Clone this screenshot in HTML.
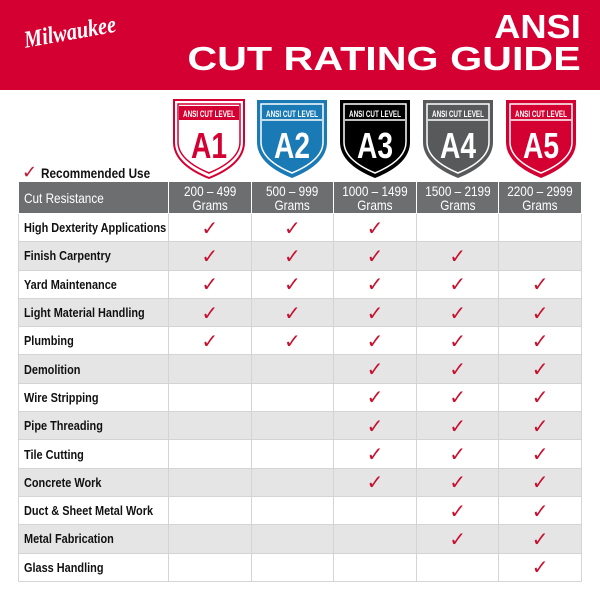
<!DOCTYPE html>
<html><head><meta charset="utf-8"><style>
body{margin:0;width:600px;height:600px;background:#fff;position:relative;overflow:hidden;font-family:"Liberation Sans",sans-serif}
.hdr{position:absolute;left:0;top:0;width:600px;height:90px;background:#d50032}
.t1,.t2{position:absolute;right:19px;color:#fff;font-family:"Liberation Sans",sans-serif;font-weight:900;white-space:nowrap;transform-origin:right top;font-size:33px;line-height:33px}
.t1{top:10px;transform:scaleX(1.1)}
.t2{top:42px;transform:scaleX(1.25)}
.logo{position:absolute;left:22px;top:28px;color:#fff;font-family:"Liberation Serif",serif;font-style:italic;font-weight:bold;font-size:24px;transform:rotate(-10deg) scaleX(0.85);transform-origin:left top}
table{position:absolute;left:18px;top:181px;border-collapse:collapse;width:564px;table-layout:fixed}
td{border:1px solid #d4d4d4;height:27.3px;padding:0;font-weight:bold;font-size:13px;color:#111;white-space:nowrap;overflow:visible}
td:first-child{padding-left:5px;width:144px}
td span{display:inline-block;transform:scaleX(0.84);transform-origin:left center}
td.c{text-align:center;color:#c8102e;font-size:20px;font-family:"DejaVu Sans",sans-serif;font-weight:bold}
tr.g td{background:#e5e5e5}
tr.h td{background:#6d6e70;color:#fff;font-weight:normal;font-size:14px;line-height:14px;height:31px;border-color:#fff}
tr.h td.n{text-align:center}
tr.h td.n span{transform-origin:center center}
.rec{position:absolute;left:22px;top:162px;font-size:14px;font-weight:bold;color:#111;white-space:nowrap}
.rec b{display:inline-block;transform:scaleX(0.84);transform-origin:left center;font-weight:bold}
.rec i{color:#c8102e;font-family:"DejaVu Sans",sans-serif;font-size:18px;font-style:normal;font-weight:bold}
svg.s{position:absolute;top:98px}
</style></head><body>
<div class="hdr"></div>
<div class="logo">Milwaukee</div>
<div class="t1">ANSI</div>
<div class="t2">CUT RATING GUIDE</div>
<div class="rec"><i>✓</i> <b>Recommended Use</b></div>

<svg class="s" style="left:171px" width="76" height="82" viewBox="0 0 76 82"><path d="M3 2H73V44Q73 66 38 80Q3 66 3 44Z" fill="#fff" stroke="#d50032" stroke-width="2"/><path d="M7 6H69V44Q69 62 38 75Q7 62 7 44Z" fill="#fff" stroke="#d50032" stroke-width="1.5"/><rect x="8" y="8" width="60" height="14" fill="#d50032"/><text x="12" y="19" textLength="52" lengthAdjust="spacingAndGlyphs" fill="#fff" font-size="9.5" font-weight="bold" font-family="Liberation Sans,sans-serif">ANSI CUT LEVEL</text><text x="20" y="60" textLength="36" lengthAdjust="spacingAndGlyphs" fill="#d50032" font-size="36" font-weight="bold" font-family="Liberation Sans,sans-serif">A1</text></svg>
<svg class="s" style="left:254px" width="76" height="82" viewBox="0 0 76 82"><path d="M3 2H73V44Q73 66 38 80Q3 66 3 44Z" fill="#1a7ab5"/><path d="M7 6H69V44Q69 62 38 75Q7 62 7 44Z" fill="#1a7ab5" stroke="#fff" stroke-width="1.5"/><text x="12" y="19" textLength="52" lengthAdjust="spacingAndGlyphs" fill="#fff" font-size="9.5" font-weight="bold" font-family="Liberation Sans,sans-serif">ANSI CUT LEVEL</text><line x1="8" y1="22" x2="68" y2="22" stroke="#fff" stroke-width="1.5"/><text x="20" y="60" textLength="36" lengthAdjust="spacingAndGlyphs" fill="#fff" font-size="36" font-weight="bold" font-family="Liberation Sans,sans-serif">A2</text></svg>
<svg class="s" style="left:337px" width="76" height="82" viewBox="0 0 76 82"><path d="M3 2H73V44Q73 66 38 80Q3 66 3 44Z" fill="#000"/><path d="M7 6H69V44Q69 62 38 75Q7 62 7 44Z" fill="#000" stroke="#fff" stroke-width="1.5"/><text x="12" y="19" textLength="52" lengthAdjust="spacingAndGlyphs" fill="#fff" font-size="9.5" font-weight="bold" font-family="Liberation Sans,sans-serif">ANSI CUT LEVEL</text><line x1="8" y1="22" x2="68" y2="22" stroke="#fff" stroke-width="1.5"/><text x="20" y="60" textLength="36" lengthAdjust="spacingAndGlyphs" fill="#fff" font-size="36" font-weight="bold" font-family="Liberation Sans,sans-serif">A3</text></svg>
<svg class="s" style="left:420px" width="76" height="82" viewBox="0 0 76 82"><path d="M3 2H73V44Q73 66 38 80Q3 66 3 44Z" fill="#58595b"/><path d="M7 6H69V44Q69 62 38 75Q7 62 7 44Z" fill="#58595b" stroke="#fff" stroke-width="1.5"/><text x="12" y="19" textLength="52" lengthAdjust="spacingAndGlyphs" fill="#fff" font-size="9.5" font-weight="bold" font-family="Liberation Sans,sans-serif">ANSI CUT LEVEL</text><line x1="8" y1="22" x2="68" y2="22" stroke="#fff" stroke-width="1.5"/><text x="20" y="60" textLength="36" lengthAdjust="spacingAndGlyphs" fill="#fff" font-size="36" font-weight="bold" font-family="Liberation Sans,sans-serif">A4</text></svg>
<svg class="s" style="left:503px" width="76" height="82" viewBox="0 0 76 82"><path d="M3 2H73V44Q73 66 38 80Q3 66 3 44Z" fill="#d50032"/><path d="M7 6H69V44Q69 62 38 75Q7 62 7 44Z" fill="#d50032" stroke="#fff" stroke-width="1.5"/><text x="12" y="19" textLength="52" lengthAdjust="spacingAndGlyphs" fill="#fff" font-size="9.5" font-weight="bold" font-family="Liberation Sans,sans-serif">ANSI CUT LEVEL</text><line x1="8" y1="22" x2="68" y2="22" stroke="#fff" stroke-width="1.5"/><text x="20" y="60" textLength="36" lengthAdjust="spacingAndGlyphs" fill="#fff" font-size="36" font-weight="bold" font-family="Liberation Sans,sans-serif">A5</text></svg>

<table>
<tr class="h"><td><span>Cut Resistance</span></td><td class="n"><span>200 – 499<br>Grams</span></td><td class="n"><span>500 – 999<br>Grams</span></td><td class="n"><span>1000 – 1499<br>Grams</span></td><td class="n"><span>1500 – 2199<br>Grams</span></td><td class="n"><span>2200 – 2999<br>Grams</span></td></tr>
<tr><td><span>High Dexterity Applications</span></td><td class="c">✓</td><td class="c">✓</td><td class="c">✓</td><td class="c"></td><td class="c"></td></tr>
<tr class="g"><td><span>Finish Carpentry</span></td><td class="c">✓</td><td class="c">✓</td><td class="c">✓</td><td class="c">✓</td><td class="c"></td></tr>
<tr><td><span>Yard Maintenance</span></td><td class="c">✓</td><td class="c">✓</td><td class="c">✓</td><td class="c">✓</td><td class="c">✓</td></tr>
<tr class="g"><td><span>Light Material Handling</span></td><td class="c">✓</td><td class="c">✓</td><td class="c">✓</td><td class="c">✓</td><td class="c">✓</td></tr>
<tr><td><span>Plumbing</span></td><td class="c">✓</td><td class="c">✓</td><td class="c">✓</td><td class="c">✓</td><td class="c">✓</td></tr>
<tr class="g"><td><span>Demolition</span></td><td class="c"></td><td class="c"></td><td class="c">✓</td><td class="c">✓</td><td class="c">✓</td></tr>
<tr><td><span>Wire Stripping</span></td><td class="c"></td><td class="c"></td><td class="c">✓</td><td class="c">✓</td><td class="c">✓</td></tr>
<tr class="g"><td><span>Pipe Threading</span></td><td class="c"></td><td class="c"></td><td class="c">✓</td><td class="c">✓</td><td class="c">✓</td></tr>
<tr><td><span>Tile Cutting</span></td><td class="c"></td><td class="c"></td><td class="c">✓</td><td class="c">✓</td><td class="c">✓</td></tr>
<tr class="g"><td><span>Concrete Work</span></td><td class="c"></td><td class="c"></td><td class="c">✓</td><td class="c">✓</td><td class="c">✓</td></tr>
<tr><td><span>Duct &amp; Sheet Metal Work</span></td><td class="c"></td><td class="c"></td><td class="c"></td><td class="c">✓</td><td class="c">✓</td></tr>
<tr class="g"><td><span>Metal Fabrication</span></td><td class="c"></td><td class="c"></td><td class="c"></td><td class="c">✓</td><td class="c">✓</td></tr>
<tr><td><span>Glass Handling</span></td><td class="c"></td><td class="c"></td><td class="c"></td><td class="c"></td><td class="c">✓</td></tr>
</table>
</body></html>
